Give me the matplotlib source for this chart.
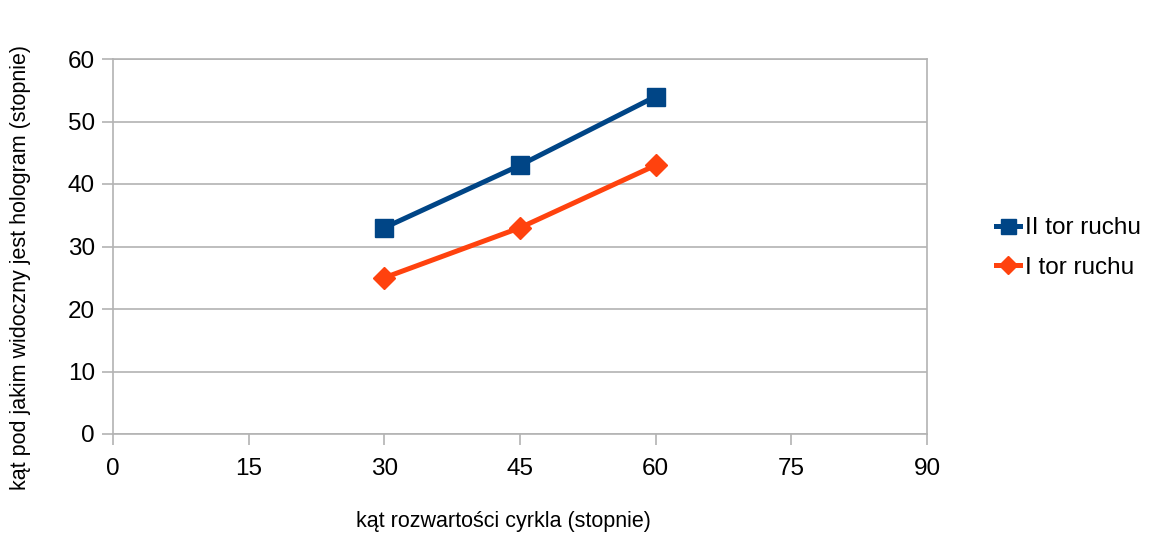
import matplotlib
matplotlib.use("Agg")
import matplotlib.pyplot as plt

plt.rcParams['font.family'] = ['Liberation Sans', 'DejaVu Sans']

x_vals = [30, 45, 60]
series_ii = [33, 43, 54]
series_i = [25, 33, 43]
series_names = ["II tor ruchu", "I tor ruchu"]
x_ticks = [0, 15, 30, 45, 60, 75, 90]
y_ticks = [0, 10, 20, 30, 40, 50, 60]

fig = plt.figure(figsize=(11.52, 5.36), dpi=100)
ax = fig.add_axes([113/1152, (536-434)/536, (927-113)/1152, (434-59)/536])

grid_c = '#b3b3b3'
ax.plot(x_vals, series_ii, color='#004586', lw=3.6, marker='s', ms=13.5,
        label=series_names[0], zorder=3)
ax.plot(x_vals, series_i, color='#ff420e', lw=3.6, marker='D', ms=11.5,
        label=series_names[1], zorder=3)

ax.set_xlim(0, 90)
ax.set_ylim(0, 60)
ax.set_xticks(x_ticks)
ax.set_yticks(y_ticks)
ax.yaxis.grid(True, color=grid_c, lw=1.2)
ax.set_axisbelow(True)
for s in ax.spines.values():
    s.set_color(grid_c)
    s.set_linewidth(1.2)
ax.tick_params(axis='both', direction='out', length=8, width=1.2, color=grid_c,
               labelsize=17.5, pad=5)
ax.tick_params(axis='x', pad=9)

ax.set_xlabel("kąt rozwartości cyrkla (stopnie)", fontsize=15.5)
ax.xaxis.set_label_coords((503-113)/(927-113), -(521-434)/(434-59), transform=ax.transAxes)
ax.xaxis.label.set_va('center')
ax.set_ylabel("kąt pod jakim widoczny jest hologram (stopnie)", fontsize=15.5)
ax.yaxis.set_label_coords(-(113-21)/(927-113), (434-268)/(434-59))
ax.yaxis.label.set_va('center')

leg = fig.legend(loc='center left', bbox_to_anchor=(996/1152, 1-248/536), frameon=False,
                 fontsize=17.5, handlelength=1.0, handletextpad=0.2, labelspacing=0.7,
                 borderaxespad=0, borderpad=0, markerscale=0.8)

fig.savefig("out.png", dpi=100)
